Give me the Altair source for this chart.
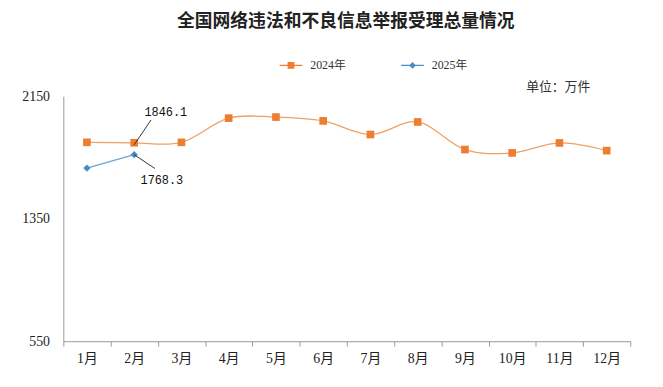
import altair as alt
import pandas as pd

title_text = "全国网络违法和不良信息举报受理总量情况"
unit_label = "单位：万件"
months = ["1月", "2月", "3月", "4月", "5月", "6月", "7月", "8月", "9月", "10月", "11月", "12月"]
series_names = ["2024年", "2025年"]
v2024 = [1849, 1846.1, 1849, 2007, 2014, 1989, 1900, 1982, 1802, 1780, 1845, 1795]
v2025 = [1681, 1768.3]
y_ticks = [550, 1350, 2150]

ann_series = ["2024年", "2025年"]
ann_month = ["2月", "2月"]
ann_value = [1846.1, 1768.3]
ann_label = ["1846.1", "1768.3"]

rows = [{"month": m, "series": series_names[0], "value": v} for m, v in zip(months, v2024)]
rows += [{"month": m, "series": series_names[1], "value": v} for m, v in zip(months, v2025)]
df = pd.DataFrame(rows)
ann = pd.DataFrame({"series": ann_series, "month": ann_month, "value": ann_value, "label": ann_label})

serif = "Liberation Serif, Noto Sans CJK SC"
orange = "#ED7D31"
blue = "#4A8CCB"
line_orange = "#F0A062"
line_blue = "#6EA6DA"

xscale = alt.Scale(type="band", domain=months, paddingInner=0, paddingOuter=0)
yscale = alt.Scale(domain=[550, 2150], nice=False, zero=False)
color_scale = alt.Scale(domain=series_names, range=[orange, blue])

# legend glyphs: thin line stub + marker, as filled paths
sq = "M-1,-0.05H1V0.05H-1Z M-0.3,-0.3H0.3V0.3H-0.3Z"
dm = "M-1,-0.05H1V0.05H-1Z M0,-0.3L0.3,0L0,0.3L-0.3,0Z"

legend = alt.Legend(
    title=None, orient="none", direction="horizontal", legendX=219, legendY=-43,
    symbolSize=529, symbolStrokeWidth=0, symbolOpacity=1, labelFontSize=12, labelFont=serif,
    labelColor="#333", columnPadding=55, labelOffset=8, padding=0,
)

x_enc = alt.X("month:N", scale=xscale, sort=months,
              axis=alt.Axis(title=None, tickBand="extent", labelAngle=0, labelFont=serif,
                            labelFontSize=14, labelColor="#222", tickSize=5, tickColor="#999",
                            domainColor="#999", labelPadding=6, grid=False))
y_enc = alt.Y("value:Q", scale=yscale,
              axis=alt.Axis(title=None, values=y_ticks, format="d", ticks=False, tickSize=0,
                            labelPadding=14, labelFont=serif, labelFontSize=14, labelColor="#222",
                            domainColor="#999", grid=False))

base = alt.Chart(df).encode(x=x_enc, y=y_enc)

legend_layer = base.mark_point(filled=True, opacity=0, size=10).encode(
    color=alt.Color("series:N", scale=color_scale, legend=legend),
    shape=alt.Shape("series:N", scale=alt.Scale(domain=series_names, range=[sq, dm]), legend=legend),
)
lines = base.mark_line(interpolate="cardinal", strokeWidth=1.3).encode(
    stroke=alt.Stroke("series:N", scale=alt.Scale(domain=series_names, range=[line_orange, line_blue]),
                      legend=None)
)
points24 = base.transform_filter(alt.datum.series == series_names[0]).mark_point(
    filled=True, opacity=1, size=60, shape="square"
).encode(fill=alt.Fill("series:N", scale=color_scale, legend=None))
points25 = base.transform_filter(alt.datum.series == series_names[1]).mark_point(
    filled=True, opacity=1, size=55, shape="diamond"
).encode(fill=alt.Fill("series:N", scale=color_scale, legend=None))

ann_base = alt.Chart(ann)
leader1 = ann_base.transform_filter(alt.datum.series == "2024年").mark_rule(
    color="#333", strokeWidth=1, yOffset=2, x2Offset=17, y2Offset=-23
).encode(
    x=alt.X("month:N", scale=xscale, bandPosition=0.5),
    x2=alt.X2("month", bandPosition=0.5),
    y=alt.Y("value:Q", scale=yscale), y2="value:Q",
)
leader2 = ann_base.transform_filter(alt.datum.series == "2025年").mark_rule(
    color="#333", strokeWidth=1, x2Offset=21, y2Offset=14
).encode(
    x=alt.X("month:N", scale=xscale, bandPosition=0.5),
    x2=alt.X2("month", bandPosition=0.5),
    y=alt.Y("value:Q", scale=yscale), y2="value:Q",
)
text1 = ann_base.transform_filter(alt.datum.series == "2024年").mark_text(
    font="Liberation Mono", fontSize=12, color="#111", dx=32, dy=-31
).encode(x=alt.X("month:N", scale=xscale), y=alt.Y("value:Q", scale=yscale), text="label:N")
text2 = ann_base.transform_filter(alt.datum.series == "2025年").mark_text(
    font="Liberation Mono", fontSize=12, color="#111", dx=28, dy=26
).encode(x=alt.X("month:N", scale=xscale), y=alt.Y("value:Q", scale=yscale), text="label:N")

unit = alt.Chart(pd.DataFrame({"t": [unit_label]})).mark_text(
    font="Noto Sans CJK SC", fontSize=13, color="#333", align="center"
).encode(x=alt.value(501), y=alt.value(-9), text="t:N")

chart = alt.layer(legend_layer, lines, points24, points25, leader1, leader2, text1, text2, unit).properties(
    width=574, height=248,
    autosize=alt.AutoSizeParams(type="none"),
    padding={"left": 56, "top": 87, "right": 25, "bottom": 44},
    title=alt.TitleParams(title_text, font="Noto Sans CJK SC", fontSize=18, fontWeight="bold",
                          color="#222", anchor="middle", dx=-1, offset=23),
).configure_view(stroke=None)

chart.save("out.html", embed_options={"renderer": "svg", "actions": False})
